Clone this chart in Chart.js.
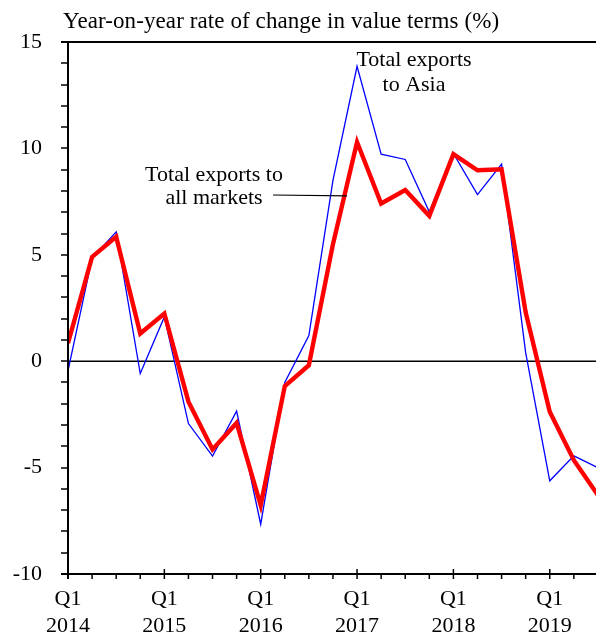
<!DOCTYPE html>
<html>
<head>
<meta charset="utf-8">
<script src="https://cdn.jsdelivr.net/npm/chart.js@4/dist/chart.umd.min.js"></script>
<style>
  html, body { margin: 0; padding: 0; background: #fff; }
  #wrap { width: 596px; height: 636px; position: relative; }
</style>
</head>
<body>
<div id="wrap"><canvas id="c" width="596" height="636"></canvas></div>
<script>
// Quarters from Q1 2014 to Q3 2019
const categories = [
  'Q1 2014','Q2 2014','Q3 2014','Q4 2014',
  'Q1 2015','Q2 2015','Q3 2015','Q4 2015',
  'Q1 2016','Q2 2016','Q3 2016','Q4 2016',
  'Q1 2017','Q2 2017','Q3 2017','Q4 2017',
  'Q1 2018','Q2 2018','Q3 2018','Q4 2018',
  'Q1 2019','Q2 2019','Q3 2019'
];
// Total exports to all markets (%)
const allMarkets = [
  0.85, 4.9, 5.85, 1.3,
  2.24, -1.9, -4.15, -2.9,
  -6.77, -1.17, -0.19, 5.5,
  10.3, 7.41, 8.04, 6.83,
  9.73, 8.97, 9.02, 2.3,
  -2.38, -4.65, -6.3
];
// Total exports to Asia (%)
const asia = [
  -0.45, 4.85, 6.08, -0.58,
  2.08, -2.93, -4.46, -2.35,
  -7.66, -1.0, 1.2, 8.5,
  13.86, 9.73, 9.48, 7.02,
  9.76, 7.83, 9.26, 0.4,
  -5.62, -4.45, -5.0
];
const yTickLabels = [-10, -5, 0, 5, 10, 15];
const titleText = 'Year-on-year rate of change in value terms (%)';
const asiaLabel = ['Total exports', 'to Asia'];
const allLabel = ['Total exports to', 'all markets'];

const FONT = "'Liberation Serif', 'Times New Roman', serif";

const toPoints = arr => arr.map((v, i) => ({ x: i, y: v }));

const decor = {
  id: 'decor',
  beforeDatasetsDraw(chart) {
    const ctx = chart.ctx;
    const xs = chart.scales.x, ys = chart.scales.y;
    const L = xs.getPixelForValue(0);
    const R = chart.width;
    ctx.save();
    ctx.strokeStyle = '#000';
    ctx.lineWidth = 1.5;
    const z = ys.getPixelForValue(0);
    ctx.beginPath(); ctx.moveTo(L, z); ctx.lineTo(R, z); ctx.stroke();
    ctx.restore();
  },
  afterDatasetsDraw(chart) {
    const ctx = chart.ctx;
    const xs = chart.scales.x, ys = chart.scales.y;
    const L = xs.getPixelForValue(0);
    const R = chart.width;
    const T = ys.getPixelForValue(15);
    const B = ys.getPixelForValue(-10);
    ctx.save();
    ctx.strokeStyle = '#000';
    ctx.lineWidth = 2;
    ctx.beginPath(); ctx.moveTo(L - 7, T); ctx.lineTo(R, T); ctx.stroke();
    ctx.beginPath(); ctx.moveTo(L, T); ctx.lineTo(L, B + 5); ctx.stroke();
    ctx.beginPath(); ctx.moveTo(L - 7, B); ctx.lineTo(R, B); ctx.stroke();
    ctx.lineWidth = 1.5;
    for (let v = -10; v <= 15; v++) {
      const py = Math.round(ys.getPixelForValue(v));
      ctx.beginPath(); ctx.moveTo(L - 7, py); ctx.lineTo(L, py); ctx.stroke();
    }
    for (let i = 0; i < categories.length; i++) {
      const px = xs.getPixelForValue(i);
      if (px > R) continue;
      const major = i % 4 === 0;
      ctx.beginPath();
      ctx.moveTo(px, major ? B - 5 : B);
      ctx.lineTo(px, B + 5);
      ctx.stroke();
    }
    ctx.fillStyle = '#000';
    ctx.textBaseline = 'alphabetic';
    // title, fitted to reference width
    ctx.font = '23px ' + FONT;
    ctx.textAlign = 'left';
    const w = ctx.measureText(titleText).width;
    const target = 436;
    if ('letterSpacing' in ctx && w < target) {
      ctx.letterSpacing = ((target - w) / (titleText.length - 1)).toFixed(2) + 'px';
    }
    ctx.fillText(titleText, 63, 28);
    if ('letterSpacing' in ctx) ctx.letterSpacing = '0px';
    ctx.font = '22px ' + FONT;
    ctx.textAlign = 'center';
    ctx.fillText(asiaLabel[0], 414, 66);
    ctx.fillText(asiaLabel[1], 414, 90.5);
    ctx.fillText(allLabel[0], 214, 181);
    ctx.fillText(allLabel[1], 214, 203.5);
    ctx.lineWidth = 1.2;
    ctx.beginPath();
    ctx.moveTo(273, 195);
    ctx.lineTo(347, 195.8);
    ctx.stroke();
    ctx.restore();
  }
};

new Chart(document.getElementById('c'), {
  type: 'line',
  data: {
    datasets: [
      {
        label: 'Total exports to all markets',
        data: toPoints(allMarkets),
        borderColor: '#ff0000',
        borderWidth: 4.4,
        pointRadius: 0,
        tension: 0,
        borderJoinStyle: 'miter'
      },
      {
        label: 'Total exports to Asia',
        data: toPoints(asia),
        borderColor: '#0000ff',
        borderWidth: 1.3,
        pointRadius: 0,
        tension: 0
      }
    ]
  },
  options: {
    responsive: false,
    animation: false,
    events: [],
    layout: { padding: { top: 42, right: 0, left: 0, bottom: 0 } },
    plugins: { legend: { display: false }, title: { display: false }, tooltip: { enabled: false } },
    scales: {
      x: {
        type: 'linear',
        min: 0,
        max: 21.92,
        afterFit(scale) { scale.height = 62; },
        afterBuildTicks(scale) {
          scale.ticks = categories.slice(0, 22).map((c, i) => ({ value: i }));
        },
        grid: { display: false, drawTicks: false },
        border: { display: false },
        ticks: {
          autoSkip: false,
          maxRotation: 0,
          padding: 12,
          color: '#000',
          font: { family: FONT, size: 22, lineHeight: 1.22 },
          callback(value) {
            const i = Math.round(value);
            if (i % 4 !== 0) return '';
            const parts = categories[i].split(' ');
            return [parts[0], parts[1]];
          }
        }
      },
      y: {
        min: -10,
        max: 15,
        afterFit(scale) { scale.width = 68; },
        afterBuildTicks(scale) {
          scale.ticks = yTickLabels.map(v => ({ value: v }));
        },
        grid: { display: false, drawTicks: false },
        border: { display: false },
        ticks: {
          padding: 26,
          color: '#000',
          font: { family: FONT, size: 22 }
        }
      }
    }
  },
  plugins: [decor]
});
</script>
</body>
</html>
